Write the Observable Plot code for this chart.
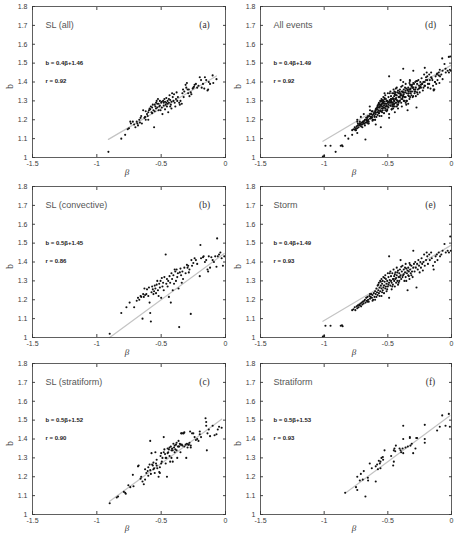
<!DOCTYPE html>
<html>
<head>
<meta charset="utf-8">
<script src="https://cdn.jsdelivr.net/npm/d3@7"></script>
<script src="https://cdn.jsdelivr.net/npm/@observablehq/plot@0.6"></script>
<style>
  html, body { margin: 0; padding: 0; background: #fff; }
  #fig { position: relative; width: 458px; height: 533px; overflow: hidden; background: #fff; }
  #fig svg { position: absolute; background: transparent; overflow: visible; }
</style>
</head>
<body>
<div id="fig"></div>
<script>
// Axis ticks shared by all six panels
const xTicks = [-1.5, -1, -0.5, 0];
const yTicks = [1, 1.1, 1.2, 1.3, 1.4, 1.5, 1.6, 1.7, 1.8];

// Panel letters, titles and fitted relations b = slope·β + intercept
const panelLetters = ["a", "b", "c", "d", "e", "f"];
const panelTitles = ["SL (all)", "SL (convective)", "SL (stratiform)", "All events", "Storm", "Stratiform"];
const slopes = [0.4, 0.5, 0.5, 0.4, 0.4, 0.5];
const intercepts = [1.46, 1.45, 1.52, 1.49, 1.49, 1.53];
const rValues = [0.92, 0.86, 0.90, 0.92, 0.93, 0.93];

// (β, b) samples per event type
const slAll = [
  [-0.91,1.03],[-0.81,1.10],[-0.78,1.12],[-0.76,1.15],[-0.75,1.155],[-0.74,1.19],[-0.735,1.18],[-0.72,1.19],
  [-0.71,1.175],[-0.70,1.16],[-0.69,1.19],[-0.685,1.18],[-0.68,1.17],[-0.67,1.20],[-0.665,1.185],[-0.66,1.21],
  [-0.655,1.22],[-0.65,1.18],[-0.64,1.25],[-0.63,1.21],[-0.625,1.215],[-0.62,1.245],[-0.62,1.20],[-0.61,1.23],
  [-0.605,1.22],[-0.60,1.20],[-0.60,1.24],[-0.595,1.25],[-0.59,1.26],[-0.585,1.255],[-0.58,1.27],[-0.575,1.24],
  [-0.57,1.265],[-0.57,1.235],[-0.565,1.28],[-0.56,1.25],[-0.555,1.16],[-0.55,1.28],[-0.55,1.245],[-0.545,1.27],
  [-0.54,1.29],[-0.54,1.26],[-0.535,1.30],[-0.53,1.265],[-0.53,1.285],[-0.525,1.31],[-0.52,1.285],[-0.52,1.25],
  [-0.515,1.27],[-0.51,1.30],[-0.51,1.275],[-0.505,1.25],[-0.50,1.29],[-0.495,1.265],[-0.495,1.295],[-0.49,1.23],
  [-0.485,1.30],[-0.48,1.29],[-0.48,1.275],[-0.475,1.31],[-0.47,1.295],[-0.47,1.255],[-0.465,1.28],[-0.46,1.315],
  [-0.46,1.29],[-0.455,1.27],[-0.45,1.30],[-0.45,1.285],[-0.445,1.24],[-0.44,1.29],[-0.44,1.31],[-0.435,1.33],
  [-0.43,1.305],[-0.43,1.27],[-0.425,1.28],[-0.42,1.26],[-0.42,1.295],[-0.415,1.34],[-0.41,1.32],[-0.405,1.30],
  [-0.40,1.335],[-0.395,1.29],[-0.39,1.27],[-0.385,1.31],[-0.38,1.345],[-0.375,1.30],[-0.37,1.32],[-0.36,1.29],
  [-0.355,1.28],[-0.35,1.30],[-0.34,1.285],[-0.335,1.34],[-0.33,1.36],[-0.325,1.32],[-0.32,1.35],[-0.31,1.385],
  [-0.305,1.37],[-0.30,1.395],[-0.295,1.36],[-0.29,1.34],[-0.285,1.36],[-0.28,1.325],[-0.27,1.345],[-0.265,1.335],
  [-0.255,1.365],[-0.25,1.37],[-0.245,1.375],[-0.24,1.385],[-0.23,1.39],[-0.22,1.37],[-0.21,1.38],[-0.20,1.425],
  [-0.19,1.41],[-0.185,1.37],[-0.175,1.39],[-0.165,1.365],[-0.16,1.425],[-0.15,1.41],[-0.14,1.355],[-0.135,1.36],
  [-0.13,1.40],[-0.12,1.39],[-0.10,1.435],[-0.095,1.395],[-0.07,1.415]
];

const slConvective = [
  [-0.90,1.02],[-0.81,1.13],[-0.77,1.16],[-0.745,1.185],[-0.71,1.16],[-0.69,1.195],[-0.68,1.21],[-0.67,1.20],
  [-0.66,1.22],[-0.655,1.215],[-0.645,1.10],[-0.64,1.23],[-0.635,1.215],[-0.63,1.26],[-0.625,1.225],[-0.615,1.23],
  [-0.61,1.255],[-0.60,1.22],[-0.595,1.265],[-0.59,1.185],[-0.585,1.13],[-0.58,1.085],[-0.575,1.24],[-0.57,1.27],
  [-0.565,1.255],[-0.56,1.23],[-0.555,1.245],[-0.55,1.275],[-0.545,1.26],[-0.54,1.235],[-0.535,1.28],[-0.53,1.30],
  [-0.525,1.25],[-0.52,1.22],[-0.515,1.285],[-0.51,1.265],[-0.505,1.30],[-0.50,1.21],[-0.495,1.315],[-0.49,1.27],
  [-0.485,1.29],[-0.48,1.25],[-0.475,1.32],[-0.465,1.44],[-0.46,1.285],[-0.455,1.31],[-0.45,1.27],[-0.445,1.30],
  [-0.44,1.215],[-0.435,1.325],[-0.43,1.29],[-0.425,1.185],[-0.42,1.34],[-0.415,1.31],[-0.41,1.25],[-0.405,1.33],
  [-0.40,1.285],[-0.395,1.36],[-0.39,1.35],[-0.385,1.30],[-0.38,1.36],[-0.375,1.32],[-0.37,1.34],[-0.365,1.26],
  [-0.36,1.055],[-0.355,1.345],[-0.35,1.365],[-0.345,1.33],[-0.34,1.29],[-0.335,1.35],[-0.33,1.31],[-0.32,1.37],
  [-0.31,1.34],[-0.30,1.385],[-0.295,1.37],[-0.29,1.38],[-0.285,1.345],[-0.28,1.36],[-0.27,1.125],[-0.265,1.41],
  [-0.26,1.38],[-0.25,1.395],[-0.24,1.42],[-0.23,1.41],[-0.22,1.39],[-0.20,1.325],[-0.195,1.49],[-0.19,1.42],
  [-0.175,1.425],[-0.17,1.43],[-0.16,1.40],[-0.15,1.41],[-0.14,1.36],[-0.135,1.35],[-0.13,1.43],[-0.12,1.37],
  [-0.11,1.425],[-0.10,1.41],[-0.09,1.40],[-0.08,1.43],[-0.07,1.375],[-0.065,1.525],[-0.06,1.43],[-0.05,1.44],
  [-0.04,1.45],[-0.03,1.42],[-0.02,1.38],[-0.01,1.43]
];

const slStratiform = [
  [-0.90,1.06],[-0.845,1.09],[-0.835,1.095],[-0.79,1.12],[-0.78,1.115],[-0.775,1.11],[-0.755,1.155],[-0.74,1.145],
  [-0.715,1.15],[-0.72,1.21],[-0.68,1.255],[-0.675,1.26],[-0.66,1.19],[-0.655,1.20],[-0.645,1.175],[-0.635,1.16],
  [-0.625,1.24],[-0.625,1.185],[-0.615,1.22],[-0.605,1.23],[-0.60,1.205],[-0.60,1.25],[-0.59,1.265],[-0.585,1.39],
  [-0.585,1.235],[-0.58,1.215],[-0.575,1.325],[-0.57,1.265],[-0.565,1.26],[-0.56,1.275],[-0.56,1.24],[-0.555,1.245],
  [-0.55,1.22],[-0.545,1.33],[-0.54,1.27],[-0.535,1.29],[-0.535,1.26],[-0.53,1.245],[-0.52,1.20],[-0.515,1.225],
  [-0.51,1.25],[-0.51,1.22],[-0.505,1.31],[-0.50,1.325],[-0.50,1.27],[-0.495,1.28],[-0.49,1.30],[-0.48,1.41],
  [-0.48,1.33],[-0.475,1.345],[-0.47,1.32],[-0.465,1.27],[-0.465,1.30],[-0.46,1.30],[-0.455,1.20],[-0.45,1.325],
  [-0.45,1.35],[-0.445,1.33],[-0.44,1.345],[-0.435,1.31],[-0.435,1.355],[-0.43,1.28],[-0.425,1.36],[-0.42,1.34],
  [-0.42,1.30],[-0.415,1.35],[-0.41,1.28],[-0.41,1.34],[-0.405,1.375],[-0.40,1.355],[-0.395,1.365],[-0.395,1.33],
  [-0.39,1.345],[-0.385,1.37],[-0.38,1.38],[-0.38,1.34],[-0.375,1.30],[-0.37,1.36],[-0.365,1.36],[-0.365,1.39],
  [-0.36,1.36],[-0.355,1.375],[-0.35,1.33],[-0.35,1.37],[-0.345,1.43],[-0.34,1.37],[-0.34,1.43],[-0.335,1.365],
  [-0.33,1.43],[-0.325,1.43],[-0.32,1.36],[-0.32,1.435],[-0.31,1.37],[-0.305,1.30],[-0.30,1.375],[-0.295,1.355],
  [-0.29,1.37],[-0.285,1.37],[-0.28,1.38],[-0.275,1.44],[-0.27,1.365],[-0.27,1.355],[-0.26,1.43],[-0.25,1.43],
  [-0.24,1.41],[-0.23,1.395],[-0.22,1.40],[-0.21,1.39],[-0.20,1.425],[-0.20,1.44],[-0.19,1.41],[-0.155,1.51],
  [-0.15,1.49],[-0.15,1.47],[-0.145,1.34],[-0.14,1.43],[-0.13,1.45],[-0.12,1.415],[-0.10,1.47],[-0.085,1.42],
  [-0.07,1.425],[-0.06,1.45],[-0.05,1.465],[-0.03,1.46]
];

const storm = [
  [-1.01,1.005],[-1.0,1.008],[-0.99,1.062],[-0.95,1.062],[-0.87,1.062],[-0.86,1.065],[-0.855,1.06],
  [-0.78,1.145],[-0.77,1.15],[-0.76,1.16],[-0.755,1.145],[-0.745,1.165],[-0.74,1.155],[-0.735,1.17],[-0.73,1.16],
  [-0.725,1.175],[-0.72,1.17],[-0.715,1.18],[-0.71,1.165],[-0.705,1.185],[-0.70,1.175],
  [-0.695,1.19],[-0.69,1.18],[-0.685,1.195],[-0.68,1.20],[-0.675,1.185],[-0.67,1.21],[-0.665,1.195],[-0.66,1.215],
  [-0.66,1.19],[-0.655,1.20],[-0.65,1.19],[-0.645,1.22],[-0.64,1.205],[-0.64,1.23],[-0.635,1.215],[-0.63,1.23],
  [-0.625,1.21],[-0.62,1.225],[-0.62,1.195],[-0.615,1.20],[-0.61,1.235],[-0.605,1.215],[-0.60,1.245],[-0.60,1.20],
  [-0.595,1.23],[-0.59,1.26],[-0.59,1.215],[-0.585,1.24],[-0.58,1.275],[-0.58,1.225],[-0.575,1.25],[-0.575,1.28],
  [-0.57,1.29],[-0.57,1.235],[-0.565,1.265],[-0.565,1.22],[-0.56,1.30],[-0.56,1.245],[-0.555,1.275],[-0.555,1.295],
  [-0.55,1.31],[-0.55,1.26],[-0.55,1.22],[-0.545,1.285],[-0.545,1.24],[-0.54,1.30],[-0.54,1.25],[-0.535,1.32],
  [-0.535,1.265],[-0.53,1.275],[-0.53,1.235],[-0.525,1.295],[-0.525,1.315],[-0.52,1.33],[-0.52,1.26],[-0.515,1.31],
  [-0.515,1.27],[-0.51,1.285],[-0.51,1.245],[-0.505,1.30],[-0.505,1.255],[-0.50,1.34],[-0.50,1.27],
  [-0.495,1.32],[-0.495,1.28],[-0.49,1.43],[-0.49,1.29],[-0.49,1.21],[-0.485,1.305],[-0.485,1.34],[-0.48,1.35],
  [-0.48,1.275],[-0.475,1.325],[-0.475,1.30],[-0.47,1.29],[-0.47,1.255],[-0.465,1.34],[-0.465,1.27],[-0.46,1.31],
  [-0.46,1.28],[-0.455,1.36],[-0.455,1.31],[-0.45,1.325],[-0.45,1.30],[-0.445,1.27],[-0.445,1.335],[-0.44,1.345],
  [-0.44,1.31],[-0.435,1.29],[-0.435,1.315],[-0.43,1.37],[-0.43,1.33],[-0.425,1.30],[-0.425,1.345],[-0.42,1.355],
  [-0.42,1.28],[-0.415,1.32],[-0.415,1.29],[-0.41,1.34],[-0.41,1.30],[-0.405,1.36],[-0.405,1.32],[-0.40,1.41],
  [-0.40,1.33],[-0.395,1.31],[-0.395,1.375],[-0.39,1.35],[-0.385,1.38],[-0.385,1.32],[-0.38,1.33],[-0.375,1.36],
  [-0.375,1.335],[-0.37,1.30],[-0.365,1.345],[-0.365,1.37],[-0.36,1.39],[-0.36,1.32],[-0.355,1.365],[-0.355,1.30],
  [-0.35,1.34],[-0.345,1.25],[-0.345,1.355],[-0.34,1.37],[-0.34,1.33],[-0.335,1.35],[-0.335,1.325],[-0.33,1.395],
  [-0.33,1.31],[-0.325,1.36],[-0.325,1.385],[-0.32,1.34],[-0.315,1.38],[-0.315,1.33],[-0.31,1.35],[-0.305,1.32],
  [-0.30,1.46],[-0.30,1.37],
  [-0.295,1.39],[-0.29,1.35],[-0.285,1.40],[-0.28,1.37],[-0.275,1.265],[-0.27,1.39],[-0.265,1.36],[-0.26,1.41],
  [-0.255,1.38],[-0.25,1.345],[-0.245,1.40],[-0.24,1.37],[-0.235,1.42],[-0.23,1.39],[-0.225,1.355],[-0.22,1.40],
  [-0.215,1.44],[-0.21,1.38],[-0.20,1.41],
  [-0.195,1.45],[-0.19,1.43],[-0.185,1.39],[-0.175,1.44],[-0.17,1.41],[-0.16,1.45],[-0.155,1.42],[-0.145,1.38],
  [-0.14,1.36],[-0.13,1.40],[-0.125,1.43],[-0.115,1.44],[-0.11,1.41],[-0.10,1.45],[-0.09,1.43],[-0.08,1.44],
  [-0.07,1.46],[-0.055,1.495],[-0.045,1.45],[-0.03,1.46],[-0.02,1.45],[-0.01,1.535],[-0.005,1.46]
];

const stratiform = [
  [-0.835,1.115],[-0.75,1.145],[-0.74,1.13],[-0.74,1.20],[-0.72,1.18],[-0.712,1.215],[-0.697,1.185],[-0.689,1.23],
  [-0.676,1.095],[-0.657,1.195],[-0.655,1.18],[-0.642,1.27],[-0.626,1.245],[-0.595,1.175],[-0.595,1.255],[-0.584,1.265],
  [-0.578,1.24],[-0.571,1.285],[-0.563,1.27],[-0.558,1.28],[-0.558,1.245],[-0.55,1.30],[-0.539,1.305],[-0.537,1.29],
  [-0.526,1.34],[-0.474,1.31],[-0.458,1.26],[-0.453,1.28],[-0.453,1.34],[-0.448,1.35],[-0.442,1.335],[-0.437,1.365],
  [-0.408,1.35],[-0.40,1.34],[-0.395,1.33],[-0.384,1.35],[-0.379,1.47],[-0.379,1.40],[-0.379,1.325],[-0.361,1.355],
  [-0.343,1.36],[-0.327,1.41],[-0.327,1.405],[-0.322,1.365],[-0.312,1.375],[-0.301,1.325],[-0.283,1.35],[-0.277,1.405],
  [-0.27,1.405],[-0.21,1.475],[-0.21,1.40],[-0.21,1.38],[-0.113,1.445],[-0.092,1.465],[-0.073,1.525],[-0.047,1.47],
  [-0.021,1.533],[-0.013,1.465]
];

// "All events" pools the SL, storm and stratiform samples
const allEvents = [...slAll, ...storm, ...stratiform];

const panelPoints = [slAll, slConvective, slStratiform, allEvents, storm, stratiform];

// Page layout: two columns, three rows
const colLeft = [0, 228], colWidth = [228, 230], colMarginRight = [3, 7];
const rowTop = [0, 180, 357], rowHeight = [179, 179, 176], betaOffset = [15, 15, 14];

const sans = "'Liberation Sans', Arial, sans-serif";
const serif = "'Liberation Serif', 'Times New Roman', serif";

function panel(i) {
  const col = Math.floor(i / 3), row = i % 3;
  const pts = panelPoints[i].map(([x, y]) => ({x, y}));
  const slope = slopes[i], intercept = intercepts[i];
  const fit = d3.extent(pts, d => d.x).map(x => ({x, y: slope * x + intercept}));
  const info = [{
    title: panelTitles[i],
    letter: `(${panelLetters[i]})`,
    eq: `b = ${slope}β+${intercept.toFixed(2)}`,
    r: `r = ${rValues[i].toFixed(2)}`
  }];

  const svg = Plot.plot({
    width: colWidth[col],
    height: rowHeight[row],
    marginLeft: 32,
    marginRight: colMarginRight[col],
    marginTop: 6,
    marginBottom: rowHeight[row] - 157,
    x: {domain: [-1.5, 0]},
    y: {domain: [1, 1.8]},
    style: {fontFamily: sans, fontSize: "7px", color: "#333", background: "transparent", overflow: "visible"},
    marks: [
      Plot.axisX(xTicks, {anchor: "bottom", tickSize: -3, tickPadding: 7, tickFormat: d => String(d), label: null, stroke: "#444", fill: "#3a3a3a"}),
      Plot.axisX(xTicks, {anchor: "top", tickSize: -3, tickFormat: () => "", label: null, stroke: "#444"}),
      Plot.axisY(yTicks, {anchor: "left", tickSize: -3, tickPadding: 8, tickFormat: d => String(d), label: null, stroke: "#444", fill: "#3a3a3a"}),
      Plot.axisY(yTicks, {anchor: "right", tickSize: -3, tickFormat: () => "", label: null, stroke: "#444"}),
      Plot.line(fit, {x: "x", y: "y", stroke: "#c4c4c4", strokeWidth: 1.2}),
      Plot.dot(pts, {x: "x", y: "y", r: 1.05, fill: "#111", stroke: "none"}),
      Plot.frame({stroke: "#3a3a3a", strokeWidth: 0.8}),
      Plot.text(info, {text: "title", frameAnchor: "top-left", dx: 13, dy: 19, textAnchor: "start", lineAnchor: "middle", fontSize: 9, fontFamily: sans, fill: "#555"}),
      Plot.text(info, {text: "letter", frameAnchor: "top-right", dx: -21, dy: 18, textAnchor: "middle", lineAnchor: "middle", fontSize: 9.5, fontFamily: serif, fill: "#333"}),
      Plot.text(info, {text: "eq", frameAnchor: "top-left", dx: 13, dy: 57, textAnchor: "start", lineAnchor: "middle", fontSize: 6, fontWeight: "bold", fontFamily: sans, fill: "#222"}),
      Plot.text(info, {text: "r", frameAnchor: "top-left", dx: 13, dy: 75, textAnchor: "start", lineAnchor: "middle", fontSize: 6, fontWeight: "bold", fontFamily: sans, fill: "#222"}),
      Plot.text(["b"], {frameAnchor: "left", dx: -23, dy: 7, rotate: -90, fontSize: 10, fontFamily: serif, fill: "#333"}),
      Plot.text(["β"], {frameAnchor: "bottom", dx: -2, dy: betaOffset[row], lineAnchor: "middle", fontSize: 9, fontStyle: "italic", fontFamily: serif, fill: "#333"})
    ]
  });
  svg.style.left = colLeft[col] + "px";
  svg.style.top = rowTop[row] + "px";
  return svg;
}

const fig = document.getElementById("fig");
for (let i = 0; i < 6; i++) fig.appendChild(panel(i));
</script>
</body>
</html>
